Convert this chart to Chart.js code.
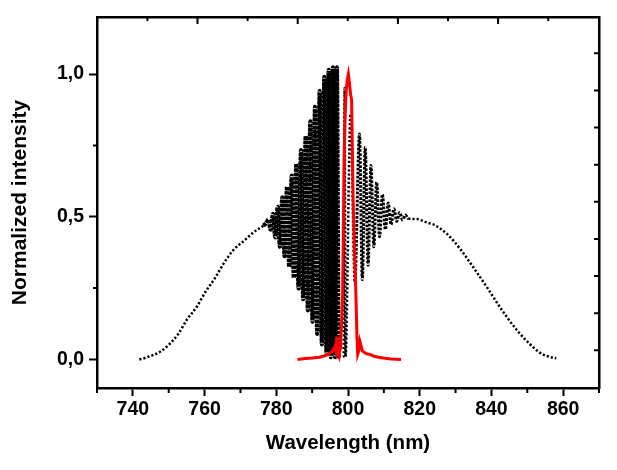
<!DOCTYPE html>
<html>
<head>
<meta charset="utf-8">
<script src="https://cdn.jsdelivr.net/npm/chart.js@4.4.1/dist/chart.umd.min.js"></script>
<style>
  html, body { margin: 0; padding: 0; background: #fff; }
  #wrap { width: 617px; height: 470px; }
</style>
</head>
<body>
<div id="wrap"><canvas id="myChart" width="617" height="470"></canvas></div>
<script>
// black trace: broad spectrum with interference fringes (wavelength in nm, normalized intensity)
const blackNm = [
  741.8, 743.3, 744.8, 746.2, 747.6, 749.9, 752.7, 755.0, 757.8, 760.3, 762.9, 765.2, 768.0, 771.3, 773.6, 776.4,
  777.2, 777.8, 778.4, 779.1, 779.7, 780.4, 781.0, 781.7, 782.3, 783.0, 783.6, 784.3, 784.9, 785.6, 786.2, 786.9,
  787.5, 788.2, 788.8, 789.5, 790.1, 790.8, 791.4, 792.1, 792.7, 793.4, 794.0, 794.6, 795.2, 795.8, 796.4, 796.9,
  797.4, 798.8, 799.05, 799.3, 800.7, 801.9, 803.2, 804.0, 804.8, 805.6, 806.4, 807.2, 808.0, 808.8, 809.6, 810.4,
  811.2, 812.0, 812.8, 813.6, 814.4, 815.2, 816.0, 816.8,
  819.2, 822.0, 824.0, 827.6, 831.3, 835.0, 838.8, 842.5, 846.2, 849.9, 853.6, 856.0, 858.1
];
const blackVal = [
  0.000, 0.005, 0.012, 0.018, 0.027, 0.050, 0.090, 0.138, 0.184, 0.238, 0.285, 0.334, 0.383, 0.419, 0.445, 0.469,
  0.478, 0.490, 0.455, 0.510, 0.428, 0.535, 0.395, 0.568, 0.362, 0.605, 0.325, 0.644, 0.287, 0.685, 0.249, 0.734,
  0.211, 0.783, 0.172, 0.834, 0.132, 0.885, 0.090, 0.941, 0.053, 0.990, 0.020, 1.015, 0.008, 1.024, 0.008, 1.024,
  0.010, 0.010, 0.950, 0.010, 0.860, 0.270, 0.790, 0.280, 0.744, 0.330, 0.680, 0.395, 0.621, 0.430, 0.578, 0.455,
  0.548, 0.472, 0.528, 0.484, 0.515, 0.489, 0.506, 0.494,
  0.492, 0.480, 0.472, 0.440, 0.387, 0.322, 0.252, 0.181, 0.117, 0.064, 0.023, 0.010, 0.004
];
// red trace: narrow peak
const redNm = [
  785.9, 788.0, 790.1, 792.0, 793.3, 794.5, 795.2, 795.8, 796.3, 796.6, 796.9, 797.2, 797.5, 797.8, 798.0, 798.3,
  798.5, 798.7, 798.9, 799.2, 799.5, 799.8, 800.1, 800.4, 800.7, 801.0, 801.2, 801.4, 801.8, 802.2, 802.5, 802.7,
  803.0, 803.3, 803.6, 804.0, 804.5, 805.2, 806.3, 807.1, 808.5, 809.9, 812.0, 814.8
];
const redVal = [
  0.000, 0.003, 0.005, 0.008, 0.012, 0.018, 0.025, 0.030, 0.045, 0.030, 0.080, 0.020, 0.010, 0.040, 0.076, 0.150,
  0.230, 0.450, 0.700, 0.850, 0.944, 0.980, 1.000, 0.970, 0.930, 0.910, 0.750, 0.580, 0.380, 0.230, 0.080, 0.018,
  0.030, 0.064, 0.050, 0.030, 0.025, 0.020, 0.017, 0.012, 0.008, 0.005, 0.002, 0.000
];

const xTicks = [740, 760, 780, 800, 820, 840, 860];
const xMinor = [730, 750, 770, 790, 810, 830, 850, 870];
const yTicks = [0, 0.5, 1.0];
const yTickLabels = ['0,0', '0,5', '1,0'];
const yMinor = [0.25, 0.75];
const topTicks = [0, 1, 2, 3, 4, 5, 6, 7, 8];
const rightTicks = [0, 1, 2, 3, 4, 5, 6, 7, 8];

const toPoints = (xs, ys) => xs.map((x, i) => ({ x: x, y: ys[i] }));

// fringe zones: blue side prints almost solid, red side a bit lighter
const inDense = ctx => ctx.p0.parsed.x >= 776.4 && ctx.p1.parsed.x <= 797.5;
const inFringe = ctx => ctx.p0.parsed.x >= 801.9 && ctx.p1.parsed.x <= 816.8;

// small inward / minor ticks, drawn through the scales
const frameTicks = {
  id: 'frameTicks',
  afterDraw(chart) {
    const { ctx, chartArea: a, scales } = chart;
    ctx.save();
    ctx.strokeStyle = '#000';
    ctx.lineWidth = 2;
    ctx.beginPath();
    xMinor.forEach(v => {
      const px = scales.x.getPixelForValue(v);
      ctx.moveTo(px, a.bottom); ctx.lineTo(px, a.bottom + 5);
    });
    yMinor.forEach(v => {
      const py = scales.y.getPixelForValue(v);
      ctx.moveTo(a.left, py); ctx.lineTo(a.left - 4, py);
    });
    topTicks.forEach((v, i) => {
      const px = scales.x2.getPixelForValue(v);
      ctx.moveTo(px, a.top); ctx.lineTo(px, a.top + (i % 2 ? 7 : 4));
    });
    rightTicks.forEach(v => {
      const py = scales.y2.getPixelForValue(v);
      ctx.moveTo(a.right, py); ctx.lineTo(a.right - 5, py);
    });
    ctx.stroke();
    ctx.restore();
  }
};

const tickFont = { family: 'Liberation Sans, Arial, sans-serif', size: 19.5, weight: 'bold' };
const titleFont = { family: 'Liberation Sans, Arial, sans-serif', size: 20.5, weight: 'bold' };

new Chart(document.getElementById('myChart'), {
  type: 'line',
  data: {
    datasets: [
      {
        label: 'Filtered',
        data: toPoints(redNm, redVal),
        borderColor: '#ff0000',
        borderWidth: 3,
        pointRadius: 0,
        tension: 0,
        order: 0,
      },
      {
        label: 'Interference',
        data: toPoints(blackNm, blackVal),
        borderColor: '#000000',
        borderWidth: 2.5,
        borderDash: [2.2, 2],
        borderCapStyle: 'butt',
        pointRadius: 0,
        cubicInterpolationMode: 'monotone',
        segment: {
          borderDash: ctx => (inDense(ctx) ? [3.4, 0.8] : inFringe(ctx) ? [2.6, 1.4] : undefined),
          borderWidth: ctx => (inDense(ctx) ? 4.2 : inFringe(ctx) ? 3 : undefined),
        },
        order: 1,
      },
    ],
  },
  options: {
    responsive: false,
    animation: false,
    layout: { padding: { top: 17, right: 18, left: 0, bottom: 0 } },
    plugins: { legend: { display: false }, tooltip: { enabled: false } },
    scales: {
      x: {
        type: 'linear',
        position: 'bottom',
        min: 730,
        max: 870,
        afterBuildTicks: axis => { axis.ticks = xTicks.map(v => ({ value: v })); },
        afterFit: axis => { axis.height = 82; },
        ticks: { color: '#000', font: tickFont, padding: 2, maxRotation: 0, callback: v => String(v) },
        grid: { drawOnChartArea: false, tickLength: 8, tickWidth: 2, tickColor: '#000' },
        border: { display: true, color: '#000', width: 2.5 },
        title: { display: true, text: 'Wavelength (nm)', color: '#000', font: titleFont, padding: { top: 0, bottom: 14 } },
      },
      y: {
        type: 'linear',
        position: 'left',
        min: -0.1,
        max: 1.2,
        afterBuildTicks: axis => { axis.ticks = yTicks.map(v => ({ value: v })); },
        afterFit: axis => { axis.width = 97; },
        ticks: { color: '#000', font: tickFont, padding: 5, callback: (v, i) => yTickLabels[i] },
        grid: { drawOnChartArea: false, tickLength: 8, tickWidth: 2, tickColor: '#000' },
        border: { display: true, color: '#000', width: 2.5 },
        title: { display: true, text: 'Normalized intensity', color: '#000', font: { ...titleFont, size: 21 }, padding: { top: 8, bottom: 0 } },
      },
      x2: {
        type: 'linear',
        position: 'top',
        display: true,
        min: -1.006,
        max: 9.014,
        afterFit: axis => { axis.height = 0; },
        ticks: { display: false },
        grid: { display: false, drawTicks: false },
        border: { display: true, color: '#000', width: 2.5 },
      },
      y2: {
        type: 'linear',
        position: 'right',
        display: true,
        min: -1.016,
        max: 8.98,
        afterFit: axis => { axis.width = 0; },
        ticks: { display: false },
        grid: { display: false, drawTicks: false },
        border: { display: true, color: '#000', width: 2.5 },
      },
    },
  },
  plugins: [frameTicks],
});
</script>
</body>
</html>
